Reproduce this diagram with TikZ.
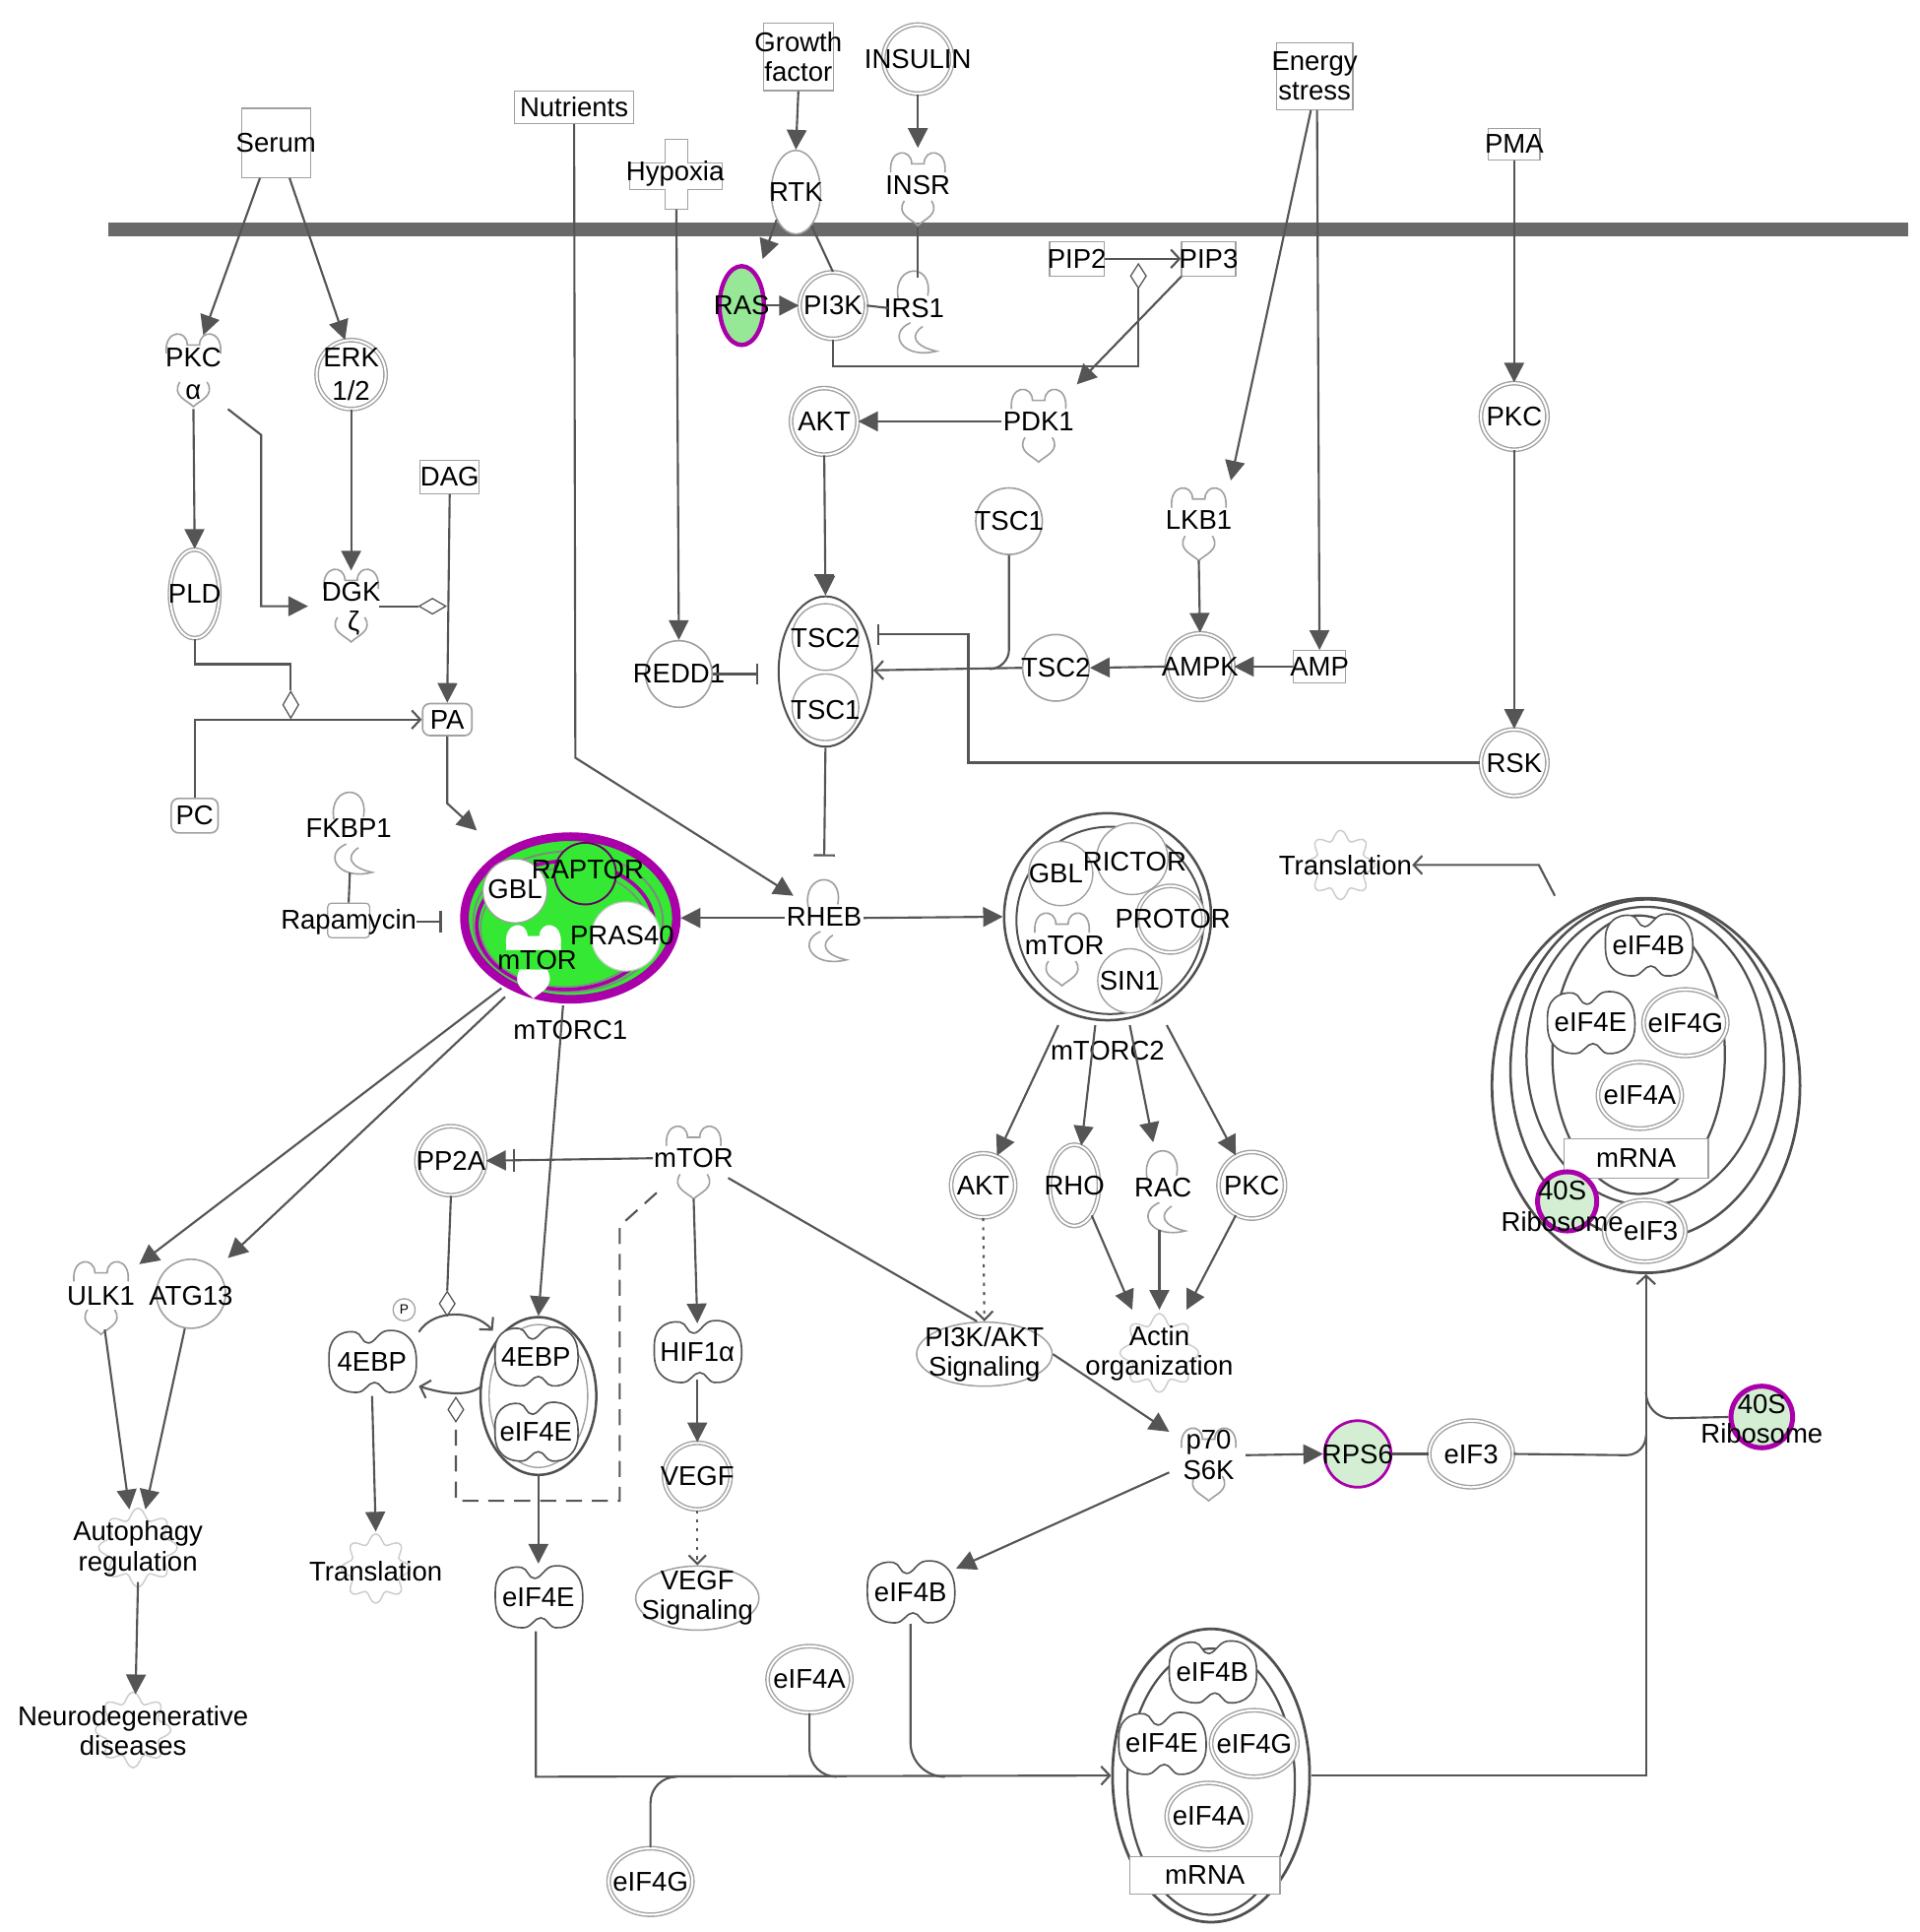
\documentclass[tikz,border=0pt]{standalone}
\usepackage{fontspec}
\setmainfont{Liberation Sans}
\usetikzlibrary{arrows.meta,shapes.misc,shapes.geometric,calc}
\definecolor{cLn}{RGB}{85,85,85}
\definecolor{cSh}{RGB}{160,160,160}
\definecolor{cCx}{RGB}{80,80,80}
\definecolor{cMag}{RGB}{170,0,170}
\definecolor{cGrn}{RGB}{52,232,52}
\definecolor{cLgrn}{RGB}{150,232,150}
\definecolor{cPgrn}{RGB}{212,238,212}
\definecolor{cGear}{RGB}{205,205,205}
\definecolor{cMem}{RGB}{105,105,105}
\tikzset{
 conn/.style={draw=cLn, line width=1.7pt},
 act/.style={conn, -{Triangle[length=16pt,width=16pt]}},
 inh/.style={conn, -{Bar[width=17pt]}},
 opn/.style={conn, -{Straight Barb[length=7pt,width=15pt]}},
 dotarr/.style={conn, dash pattern=on 2.5pt off 5pt, -{Straight Barb[length=7pt,width=14pt]}},
 dsh/.style={conn, dash pattern=on 13pt off 8pt},
 lbl/.style={inner sep=0pt, text=black, align=center},
 box/.style={rectangle, draw=cSh, line width=1pt, fill=white, inner sep=0pt},
 hexb/.style={chamfered rectangle, chamfered rectangle xsep=3pt, draw=cSh, line width=1pt, fill=white, inner sep=0pt},
 rbox/.style={rectangle, rounded corners=6pt, draw=cSh, line width=1.3pt, fill=white, inner sep=0pt},
 kin/.style={circle, draw=cSh, line width=1.1pt, double=white, double distance=1.6pt, fill=white, inner sep=0pt, minimum size=54pt},
 cir/.style={circle, draw=cSh, line width=1.3pt, fill=white, inner sep=0pt, minimum size=54pt},
 dell/.style={ellipse, draw=cSh, line width=1.1pt, double=white, double distance=1.6pt, fill=white, inner sep=0pt, minimum width=68pt, minimum height=54pt},
 diam/.style={diamond, draw=cLn, line width=1pt, fill=white, inner sep=0pt},
 cpx/.style={draw=cCx, line width=2pt},
 shp/.style={draw=cSh, line width=1.3pt},
 lobe/.pic={
  \draw[shp] (-22,-10) .. controls (-24,-30) and (-5,-30) .. (-5,-17) -- (5,-17) .. controls (5,-30) and (24,-30) .. (22,-10);
  \draw[shp] (-11,13) .. controls (-18,24) and (-5,28) .. (0,33) .. controls (5,28) and (18,24) .. (11,13);
 },
 lobew/.pic={
  \filldraw[draw=white, fill=white] (-22,-6) -- (-22,-10) .. controls (-24,-30) and (-5,-30) .. (-5,-17) -- (5,-17) .. controls (5,-30) and (24,-30) .. (22,-10) -- (22,-6) -- cycle;
  \filldraw[draw=white, fill=white] (-11,10) .. controls (-18,24) and (-5,28) .. (0,33) .. controls (5,28) and (18,24) .. (11,10) -- cycle;
 },
 blob/.pic={
  \filldraw[draw=cLn, line width=1.3pt, fill=white] plot[smooth cycle, tension=0.75] coordinates {(-35,-2) (-30,-19) (-14,-24) (-3,-15) (12,-25) (30,-19) (36,1) (30,19) (14,25) (2,17) (-12,25) (-30,18)};
 },
 cresc/.pic={
  \draw[shp] (-13,-8) .. controls (-18,-36) and (16,-38) .. (11,-10);
  \draw[shp] (-3,12) .. controls (-22,20) and (-10,42) .. (18,35) .. controls (0,31) and (-4,22) .. (7,15);
 },
 gear/.pic={
  \draw[draw=cGear, line width=1.2pt] plot[smooth cycle, domain=0:354, samples=60] ({(22+3.5*cos(8*\x))*cos(\x)},{(22+3.5*cos(8*\x))*sin(\x)});
 },
}
\begin{document}
\begin{tikzpicture}[x=1pt,y=-1pt,font=\fontsize{22}{24}\selectfont]
\useasboundingbox (0,0) rectangle (1558,1568);
% membrane
\draw[cMem, line width=11pt] (88,186) -- (1549,186);

% ---------- top inputs
\node[box, minimum width=56, minimum height=56] (serum) at (224,116) {};
\node[lbl] (serum-t) at (serum) {Serum};
\node[box, minimum width=97, minimum height=26] (nutr) at (466,87) {};
\node[lbl] (nutr-t) at (nutr) {Nutrients};
\node[box, minimum width=57, minimum height=55] (growth) at (648,46) {};
\node[lbl] (growth-t) at (growth) {Growth\\factor};
\node[kin, minimum size=56] (insulin) at (745,48) {};
\node[lbl] (insulin-t) at (insulin) {INSULIN};
\node[box, minimum width=62, minimum height=54] (energy) at (1067,62) {};
\node[lbl] (energy-t) at (energy) {Energy\\stress};
\node[hexb, minimum width=42, minimum height=26] (pma) at (1229,117) {};
\node[lbl] (pma-t) at (pma) {PMA};
\draw[cSh, line width=1pt, fill=white] (540,113) -- (558,113) -- (558,132) -- (586,132) -- (586,154) -- (558,154) -- (558,170) -- (540,170) -- (540,154) -- (511,154) -- (511,132) -- (540,132) -- cycle;
\node[lbl] (hypoxia) at (548,141) {Hypoxia};
\node[ellipse, draw=cSh, line width=1.2pt, fill=white, minimum width=40, minimum height=68, inner sep=0] (rtk) at (646,156) {};
\node[lbl] (rtk-t) at (rtk) {RTK};
\pic at (745,150) {lobe};
\node[lbl] (insr) at (745,150) {INSR};

% ---------- below membrane, top part
\node[ellipse, draw=cMag, line width=3.5pt, fill=cLgrn, minimum width=36, minimum height=64, inner sep=0] (ras) at (602,248) {};
\node[lbl] (ras-t) at (ras) {RAS};
\node[kin] (pi3k) at (676,248) {};
\node[lbl] (pi3k-t) at (pi3k) {PI3K};
\pic at (742,250) {cresc};
\node[lbl] (irs1) at (742,250) {IRS1};
\node[hexb, minimum width=44, minimum height=28] (pip2) at (874,210) {};
\node[lbl] (pip2-t) at (pip2) {PIP2};
\node[hexb, minimum width=44, minimum height=28] (pip3) at (981,210) {};
\node[lbl] (pip3-t) at (pip3) {PIP3};
\node[diam, minimum width=13, minimum height=20] (dm1) at (924,224) {};
\pic at (843,342) {lobe};
\node[lbl] (pdk1) at (843,342) {PDK1};
\node[kin] (akt1) at (669,342) {};
\node[lbl] (akt1-t) at (akt1) {AKT};
\node[cir] (tsc1a) at (819,423) {};
\node[lbl] (tsc1a-t) at (tsc1a) {TSC1};
\pic at (973,422) {lobe};
\node[lbl] (lkb1) at (973,422) {LKB1};
\node[kin] (ampk) at (974,541) {};
\node[lbl] (ampk-t) at (ampk) {AMPK};
\node[hexb, minimum width=42, minimum height=26] (amp) at (1071,541) {};
\node[lbl] (amp-t) at (amp) {AMP};
\node[cir] (tsc2a) at (857,542) {};
\node[lbl] (tsc2a-t) at (tsc2a) {TSC2};
\node[ellipse, cpx, line width=1.6pt, fill=white, minimum width=76, minimum height=122, inner sep=0] (tscc) at (670,545) {};
\draw[cSh, line width=1.1pt] (670,517) circle (27) (670,574) circle (27);
\node[lbl] (tscc-2) at (670,518) {TSC2};
\node[lbl] (tscc-1) at (670,576) {TSC1};
\node[cir] (redd1) at (551,547) {};
\node[lbl] (redd1-t) at (redd1) {REDD1};
\node[kin] (pkc2) at (1229,338) {};
\node[lbl] (pkc2-t) at (pkc2) {PKC};
\node[kin] (rsk) at (1229,619) {};
\node[lbl] (rsk-t) at (rsk) {RSK};

% ---------- left column
\pic at (157,297) {lobe};
\node[lbl] (pkca) at (157,290) {PKC};
\node[lbl] (pkca-a) at (157,318) {α};
\node[kin, minimum size=56] (erk) at (285,304) {};
\node[lbl] (erk-t) at (erk) {ERK\\[3pt]1/2};
\node[dell, minimum width=40, minimum height=72] (pld) at (158,482) {};
\node[lbl] (pld-t) at (pld) {PLD};
\pic at (285,488) {lobe};
\node[lbl] (dgk) at (285,480) {DGK};
\node[lbl] (dgk-z) at (287,506) {ζ};
\node[hexb, minimum width=48, minimum height=27] (dag) at (365,387) {};
\node[lbl] (dag-t) at (dag) {DAG};
\node[diam, minimum width=22, minimum height=13] (dm2) at (351,492) {};
\node[diam, minimum width=13, minimum height=22] (dm3) at (236,572) {};
\node[rbox, minimum width=38, minimum height=28] (pc) at (158,662) {PC};
\node[rbox, minimum width=40, minimum height=26] (pa) at (363,584) {PA};
\pic at (284,673) {cresc};
\node[lbl] (fkbp1) at (283,672) {FKBP1};
\node[rbox, rounded corners=3pt, line width=1pt, minimum width=34, minimum height=28] (rapbox) at (283,747) {};
\node[lbl] (rapa) at (283,748) {Rapamycin};

% ---------- mTORC1
\node[ellipse, fill=cGrn, draw=cMag, line width=7pt, minimum width=172, minimum height=132, inner sep=0] (mtorc1) at (463,745) {};
\draw[cCx!70, line width=1.5pt] (461,748) ellipse [x radius=77, y radius=57];
\draw[cMag, line width=3pt] (459,751) ellipse [x radius=72, y radius=52];
\draw[cCx!70, line width=1.2pt] (458,753) ellipse [x radius=68, y radius=48];
\node[circle, fill=white, draw=cSh, line width=1pt, minimum size=52, inner sep=0] (gbl1) at (418,723) {};
\node[circle, fill=cGrn, draw=cMag!60!black, line width=1.5pt, minimum size=50, inner sep=0] (raptor) at (475,709) {};
\node[circle, fill=white, draw=cSh!50, line width=1pt, minimum size=56, inner sep=0] (pras40) at (508,760) {};
\pic at (433,777) {lobew};
\node[lbl] (gbl1-t) at (418,722) {GBL};
\node[lbl] (raptor-t) at (477,706) {RAPTOR};
\node[lbl] (pras40-t) at (505,759) {PRAS40};
\node[lbl] (mtor1-t) at (436,779) {mTOR};
\node[lbl] (mtorc1-l) at (463,836) {mTORC1};

% ---------- RHEB and mTORC2
\pic at (669,744) {cresc};
\node[lbl] (rheb) at (669,744) {RHEB};
\node[circle, cpx, fill=white, minimum size=168, inner sep=0] (mtorc2) at (899,744) {};
\draw[cpx, line width=1.6pt] (901,747) circle (76);
\node[cir, minimum size=52, line width=1.1pt] (gbl2) at (861,709) {};
\node[cir, minimum size=58, line width=1.1pt] (rictor) at (919,697) {};
\node[kin] (protor) at (950,746) {};
\pic at (862,767) {lobe};
\node[cir, minimum size=52, line width=1.1pt] (sin1) at (917,796) {};
\node[lbl] (gbl2-t) at (857,709) {GBL};
\node[lbl] (rictor-t) at (921,699) {RICTOR};
\node[lbl] (protor-t) at (952,746) {PROTOR};
\node[lbl] (mtor2-t) at (864,767) {mTOR};
\node[lbl] (sin1-t) at (917,796) {SIN1};
\node[lbl] (mtorc2-l) at (899,853) {mTORC2};

% ---------- mTORC2 targets
\node[kin, minimum size=52] (akt2) at (798,962) {};
\node[lbl] (akt2-t) at (akt2) {AKT};
\node[dell, minimum width=40, minimum height=66] (rho) at (872,962) {};
\node[lbl] (rho-t) at (rho) {RHO};
\pic at (944,964) {cresc};
\node[lbl] (rac) at (944,964) {RAC};
\node[kin] (pkc3) at (1016,962) {};
\node[lbl] (pkc3-t) at (pkc3) {PKC};
\pic[scale=1.25] at (941,1098) {gear};
\node[lbl] (actin) at (941,1098) {Actin\\organization};
\node[ellipse, draw=cSh, line width=1.2pt, fill=white, minimum width=110, minimum height=52, inner sep=0] (pak) at (799,1099) {};
\node[lbl] (pak-t) at (pak) {PI3K/AKT\\Signaling};

% ---------- middle mTOR branch
\pic at (563,940) {lobe};
\node[lbl] (mtorm) at (563,940) {mTOR};
\node[kin, minimum size=56] (pp2a) at (366,942) {};
\node[lbl] (pp2a-t) at (pp2a) {PP2A};
\pic at (82,1050) {lobe};
\node[lbl] (ulk1) at (82,1052) {ULK1};
\node[cir, minimum size=56] (atg13) at (155,1050) {};
\node[lbl] (atg13-t) at (155,1052) {ATG13};
\pic[scale=1.25] at (112,1256) {gear};
\node[lbl] (autoph) at (112,1257) {Autophagy\\regulation};
\pic[scale=1.2] at (108,1404) {gear};
\node[lbl] (neuro) at (108,1405) {Neurodegenerative\\diseases};
\pic at (302,1105) {blob};
\node[lbl] (febp) at (302,1105) {4EBP};
\node[circle, draw=cSh, line width=1pt, fill=white, minimum size=18, inner sep=0, font=\fontsize{11}{12}\selectfont] (phos) at (328,1063) {P};
\node[ellipse, cpx, fill=white, minimum width=94, minimum height=128, inner sep=0] (cplx4) at (437,1133) {};
\draw[cSh, line width=1.1pt] (437,1133) ellipse [x radius=40, y radius=58];
\pic[scale=0.95] at (435,1101) {blob};
\node[lbl] (cplx4-a) at (435,1101) {4EBP};
\pic[scale=0.95] at (435,1162) {blob};
\node[lbl] (cplx4-b) at (435,1162) {eIF4E};
\pic[scale=1.1] at (305,1273) {gear};
\node[lbl] (transl) at (305,1275) {Translation};
\pic at (437,1296) {blob};
\node[lbl] (eif4e) at (437,1296) {eIF4E};
\pic at (566,1097) {blob};
\node[lbl] (hif) at (566,1097) {HIF1α};
\node[kin] (vegf) at (566,1198) {};
\node[lbl] (vegf-t) at (vegf) {VEGF};
\node[ellipse, draw=cSh, line width=1.2pt, fill=white, minimum width=100, minimum height=52, inner sep=0] (vegfs) at (566,1297) {};
\node[lbl] (vegfs-t) at (vegfs) {VEGF\\Signaling};
\node[diam, minimum width=13, minimum height=20] (dm4) at (363,1058) {};
\node[diam, minimum width=13, minimum height=20] (dm5) at (370,1144) {};

% ---------- p70 row
\pic at (981,1185) {lobe};
\node[lbl] (p70) at (981,1181) {p70\\[1pt]S6K};
\node[circle, draw=cMag, line width=2.2pt, fill=cPgrn, minimum size=54, inner sep=0] (rps6) at (1102,1180) {};
\node[lbl] (rps6-t) at (rps6) {RPS6};
\node[dell] (eif3) at (1194,1180) {};
\node[lbl] (eif3-t) at (eif3) {eIF3};
\node[circle, draw=cMag, line width=4pt, fill=cPgrn, minimum size=50, inner sep=0] (r40s) at (1430,1150) {};
\node[lbl] (r40s-t) at (1430,1152) {40S\\Ribosome};
\node[dell] (eif4a) at (657,1363) {};
\node[lbl] (eif4a-t) at (eif4a) {eIF4A};
\pic at (739,1292) {blob};
\node[lbl] (eif4b) at (739,1292) {eIF4B};
\node[dell] (eif4g) at (528,1527) {};
\node[lbl] (eif4g-t) at (eif4g) {eIF4G};

% ---------- bottom complex
\node[ellipse, cpx, line width=2.2pt, fill=white, minimum width=160, minimum height=238, inner sep=0] (cplxb) at (983,1441) {};
\draw[cpx, line width=1.8pt] (983,1446) ellipse [x radius=68, y radius=108];
\pic at (984,1357) {blob};
\node[lbl] (cb-4b) at (984,1357) {eIF4B};
\pic at (943,1415) {blob};
\node[lbl] (cb-4e) at (943,1415) {eIF4E};
\node[dell, minimum width=70] (cb-4g) at (1018,1415) {};
\node[lbl] (cb-4g-t) at (cb-4g) {eIF4G};
\node[dell] (cb-4a) at (981,1474) {};
\node[lbl] (cb-4a-t) at (cb-4a) {eIF4A};
\node[box, minimum width=122, minimum height=30] (cb-mrna) at (978,1522) {};
\node[lbl] (cb-mrna-t) at (cb-mrna) {mRNA};

% ---------- top right complex
\node[ellipse, cpx, line width=2.2pt, fill=white, minimum width=250, minimum height=304, inner sep=0] (cplxt) at (1336,881) {};
\draw[cpx] (1337,868) ellipse [x radius=111, y radius=138];
\draw[cpx, line width=1.8pt] (1336,857) ellipse [x radius=97, y radius=121];
\draw[cpx, line width=1.8pt] (1330,856) ellipse [x radius=70, y radius=113];
\pic at (1338,767) {blob};
\node[lbl] (ct-4b) at (1338,767) {eIF4B};
\pic at (1291,830) {blob};
\node[lbl] (ct-4e) at (1291,830) {eIF4E};
\node[dell] (ct-4g) at (1368,830) {};
\node[lbl] (ct-4g-t) at (ct-4g) {eIF4G};
\node[dell] (ct-4a) at (1331,889) {};
\node[lbl] (ct-4a-t) at (ct-4a) {eIF4A};
\node[box, minimum width=117, minimum height=32] (ct-mrna) at (1328,940) {};
\node[lbl] (ct-mrna-t) at (ct-mrna) {mRNA};
\node[dell, minimum width=66, minimum height=50] (ct-3) at (1335,999) {};
\node[circle, draw=cMag, line width=4pt, fill=cPgrn, minimum size=48, inner sep=0] (ct-40s) at (1272,975) {};
\node[lbl] (ct-3-t) at (1340,999) {eIF3};
\node[lbl] (ct-40s-t) at (1268,979) {40S\\[2pt]Ribosome};
\pic[scale=1.1] at (1088,702) {gear};
\node[lbl] (translr) at (1092,702) {Translation};
\coordinate (trr) at (1262,727);

% ================= connectors
\draw[act] ($(serum.south)+(-13,0)$) -- ($(pkca)+(8,-18)$);
\draw[act] ($(serum.south)+(11,0)$) -- (erk.100);
\draw[act] ($(pkca-a)+(0,14)$) -- (pld.north);
\draw[act] ($(pkca-a)+(28,14)$) -- (212,353) -- (212,492) -- ($(dgk)+(-35,12)$);
\draw[act] (erk.south) -- ($(dgk)+(0,-17)$);
\draw[conn] ($(dgk)+(23,12)$) -- (dm2.west);
\draw[act] (dag.south) -- (pa.north);
\draw[conn] (pld.south) -- (158,539) -- (236,539) -- (dm3.north);
\draw[opn] (pc.north) -- (158,584) -- (pa.west);
\draw[act] (pa.south) -- (363,652) -- ($(mtorc1)+(-76,-71)$);
\draw[conn] ($(fkbp1)+(1,36)$) -- (rapbox.north);
\draw[inh] (rapa.east) -- ($(mtorc1.west)+(-15,3)$);
\draw[act] (nutr.south) -- (467,615) -- ($(rheb)+(-25,-17)$);
\draw[act] (growth.south) -- (rtk.north);
\draw[act] (insulin.south) -- ($(insr)+(0,-30)$);
\draw[act] (rtk.-125) -- ($(ras.north)+(17,-4)$);
\draw[conn] (rtk.-65) -- (pi3k.north);
\draw[act] (ras.east) -- (pi3k.west);
\draw[conn] (pi3k.east) -- ($(irs1)+(-21,0)$);
\draw[conn] ($(insr)+(0,35)$) -- ($(irs1)+(3,-25)$);
\draw[opn] (pip2.east) -- (pip3.west);
\draw[conn] (pi3k.south) -- (676,297) -- (924,297) -- (dm1.south);
\draw[act] (pip3.south west) -- ($(pdk1)+(31,-30)$);
\draw[act] ($(pdk1)+(-30,0)$) -- (akt1.east);
\draw[act] (akt1.south) -- (tscc.north);
\draw[conn] (661,467) -- (677,467);
\draw[act] ($(energy.south)+(-3,0)$) -- ($(lkb1)+(26,-32)$);
\draw[act] ($(energy.south)+(2,0)$) -- (amp.north);
\draw[act] ($(lkb1)+(0,33)$) -- (ampk.north);
\draw[act] (amp.west) -- (ampk.east);
\draw[act] (ampk.west) -- (tsc2a.east);
\draw[opn] (tsc2a.west) -- ($(tscc.east)+(0,-1)$);
\draw[conn] (tsc1a.south) -- (819,527) to[out=-90,in=0] (803,543);
\draw[act] ($(hypoxia)+(1,29)$) -- (redd1.north);
\draw[inh] (redd1.east) -- ($(tscc.west)+(-16,2)$);
\draw[inh] (rsk.west) -- (786,619) -- (786,515) -- ($(tscc.east)+(3,-30)$);
\draw[act] (pma.south) -- (pkc2.north);
\draw[act] (pkc2.south) -- (rsk.north);
\draw[inh] (tscc.south) -- ($(rheb)+(0,-49)$);
\draw[act] ($(rheb)+(-32,1)$) -- (mtorc1.east);
\draw[act] ($(rheb)+(32,1)$) -- (mtorc2.west);
\draw[act] ($(mtorc1)+(-56,57)$) -- ($(ulk1)+(31,-26)$);
\draw[act] ($(mtorc1)+(-53,64)$) -- ($(atg13)+(30,-29)$);
\draw[act] ($(mtorc1)+(-6,71)$) -- (cplx4.north);
\draw[act] ($(mtorc2)+(-40,88)$) -- (akt2.65);
\draw[act] ($(mtorc2)+(-10,88)$) -- (rho.80);
\draw[act] ($(mtorc2)+(18,88)$) -- ($(rac)+(-8,-37)$);
\draw[act] ($(mtorc2)+(48,88)$) -- (pkc3.118);
\draw[dotarr] (akt2.south) -- (pak.north);
\draw[act] (rho.-60) -- ($(actin)+(-22,-35)$);
\draw[act] ($(rac)+(-3,34)$) -- ($(actin)+(0,-35)$);
\draw[act] (pkc3.-118) -- ($(actin)+(22,-35)$);
\draw[act] ($(mtorm)+(-33,0)$) -- (pp2a.east);
\draw[conn] (417,933) -- (417,951);
\draw[act] ($(mtorm)+(0,33)$) -- ($(hif)+(0,-23)$);
\draw[conn] ($(mtorm)+(28,16)$) -- ($(pak.north)+(-6,0)$);
\draw[dsh] ($(mtorm)+(-30,28)$) -- (503,995) -- (503,1218) -- (370,1218) -- (dm5.south);
\draw[conn] (pp2a.south) -- (dm4.north);
\draw[opn] ($(febp)+(38,-24)$) .. controls (352,1062) and (385,1063) .. ($(cplx4)+(-37,-53)$);
\draw[opn] ($(cplx4)+(-46,-8)$) .. controls (378,1135) and (356,1130) .. ($(febp)+(38,20)$);
\draw[act] ($(febp)+(0,28)$) -- ($(transl)+(0,-32)$);
\draw[act] (cplx4.south) -- ($(eif4e)+(0,-27)$);
\draw[act] ($(hif)+(0,23)$) -- (vegf.north);
\draw[dotarr] (vegf.south) -- (vegfs.north);
\draw[act] (pak.east) -- ($(p70)+(-32,-19)$);
\draw[act] ($(p70)+(-32,14)$) -- ($(eif4b)+(37,-19)$);
\draw[act] ($(p70)+(30,0)$) -- (rps6.west);
\draw[conn] (rps6.east) -- (eif3.west);
\draw[act] ($(ulk1)+(3,27)$) -- ($(autoph)+(-7,-32)$);
\draw[act] (atg13.-100) -- ($(autoph)+(6,-32)$);
\draw[act] ($(autoph)+(0,27)$) -- ($(neuro)+(2,-30)$);
\draw[opn] ($(eif4e)+(-2,28)$) -- (435,1442) -- (cplxb.west);
\draw[conn] (eif4a.south) -- (657,1420) to[out=-90,in=180] (679,1442);
\draw[conn] ($(eif4b)+(0,26)$) -- (739,1414) to[out=-90,in=180] (767,1442);
\draw[conn] (eif4g.north) -- (528,1463) to[out=90,in=180] (549,1442);
\draw[opn] (cplxb.east) -- (1336,1441) -- (cplxt.south);
\draw[conn] (eif3.east) -- (1320,1181) to[out=0,in=-90] (1336,1165);
\draw[conn] (r40s.west) -- (1356,1151) to[out=180,in=-90] (1336,1130);
\draw[opn] (trr) -- (1249,702) -- (translr.east);
\end{tikzpicture}
\end{document}
